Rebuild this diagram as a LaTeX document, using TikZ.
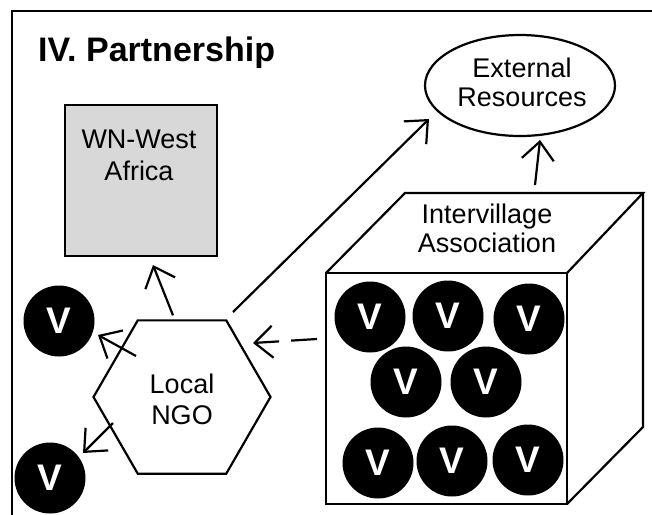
\documentclass[tikz,border=0pt]{standalone}
\usepackage{fontspec}
\setmainfont{Liberation Sans}
\usetikzlibrary{shapes.geometric,arrows.meta,calc}
\definecolor{boxgray}{RGB}{216,216,216}
\begin{document}
\begin{tikzpicture}[x=1pt,y=-1pt,
  outline/.style={draw=black,line width=2.2pt},
  lbl/.style={anchor=base,inner sep=0pt,font=\fontsize{27}{30}\selectfont},
  village/.style={circle,fill=black,minimum size=71pt,inner sep=0pt,text=white,
    font=\bfseries\fontsize{37}{40}\selectfont},
  link/.style={line width=2.2pt,-{Straight Barb[length=18pt,width=32pt]}},
]
\useasboundingbox (0,0) rectangle (652,514);
\clip (0,0) rectangle (652,514);

% open frame running off the right and bottom edges
\draw[line width=2.2pt] (12,530) -- (12,11) -- (670,11);
\node[anchor=base west,inner sep=0pt,font=\bfseries\fontsize{34}{40}\selectfont]
  (title) at (38,61) {IV. Partnership};

% WN-West Africa
\node[rectangle,outline,fill=boxgray,minimum width=152pt,minimum height=151pt,
  inner sep=0pt,outer sep=0pt] (wn) at (141,180.5) {};
\node[lbl] (wn1) at (139,148) {WN-West};
\node[lbl] (wn2) at (139,180) {Africa};

% External resources
\node[ellipse,outline,minimum width=190pt,minimum height=101pt,inner sep=0pt,
  outer sep=0pt] (ext) at (520,85.5) {};
\node[lbl] (ext1) at (522,77) {External};
\node[lbl] (ext2) at (522,106) {Resources};

% Local NGO
\node[regular polygon,regular polygon sides=6,outline,minimum size=177pt,
  inner sep=0pt,outer sep=0pt] (ngo) at (182,397) {};
\node[lbl] (ngo1) at (182,393) {Local};
\node[lbl] (ngo2) at (182,424) {NGO};

% single villages
\node[village] (v1) at (59,321) {V};
\node[village] (v2) at (50,478) {V};

% intervillage association drawn as a box
\node[rectangle,outline,minimum width=241pt,minimum height=231pt,inner sep=0pt,
  outer sep=0pt] (ia) at (446.5,388.5) {};
\draw[outline,line join=miter] (ia.north west) -- ++(79,-80) coordinate (tbl)
  -- ++(238,0) coordinate (tbr) -- (ia.north east);
\draw[outline,line join=miter] (tbr) -- ++(0,234) -- (ia.south east);
\node[lbl] (ia1) at (487,223) {Intervillage};
\node[lbl] (ia2) at (487,252) {Association};

% member villages
\node[village] (m1) at (370,317) {V};
\node[village] (m2) at (448,316) {V};
\node[village] (m3) at (529,319) {V};
\node[village] (m4) at (406,382) {V};
\node[village] (m5) at (486,382) {V};
\node[village] (m6) at (378,463) {V};
\node[village] (m7) at (452,461) {V};
\node[village] (m8) at (528,460) {V};

% links
\draw[link] ($(ngo.north)+(-9,-5)$) -- ($(wn.south)+(12,9)$);
\draw[link] ($(ngo.center)+(-46,-41)$) -- ($(v1.center)+(39,14)$);
\draw[link] ($(ngo.center)+(-69,26)$) -- ($(v2.center)+(33,-25)$);
\draw[link] ($(ngo.center)+(51,-85)$) -- ($(ext.center)+(-91,33.5)$);
\draw[link,dash pattern=on 26pt off 12pt] ($(ia.north west)+(-9,66)$)
  -- ($(ngo.center)+(71,-54)$);
\draw[link] ($(ia.north east)+(-32,-88)$) -- ($(ext.south)+(20,4)$);
\end{tikzpicture}
\end{document}
